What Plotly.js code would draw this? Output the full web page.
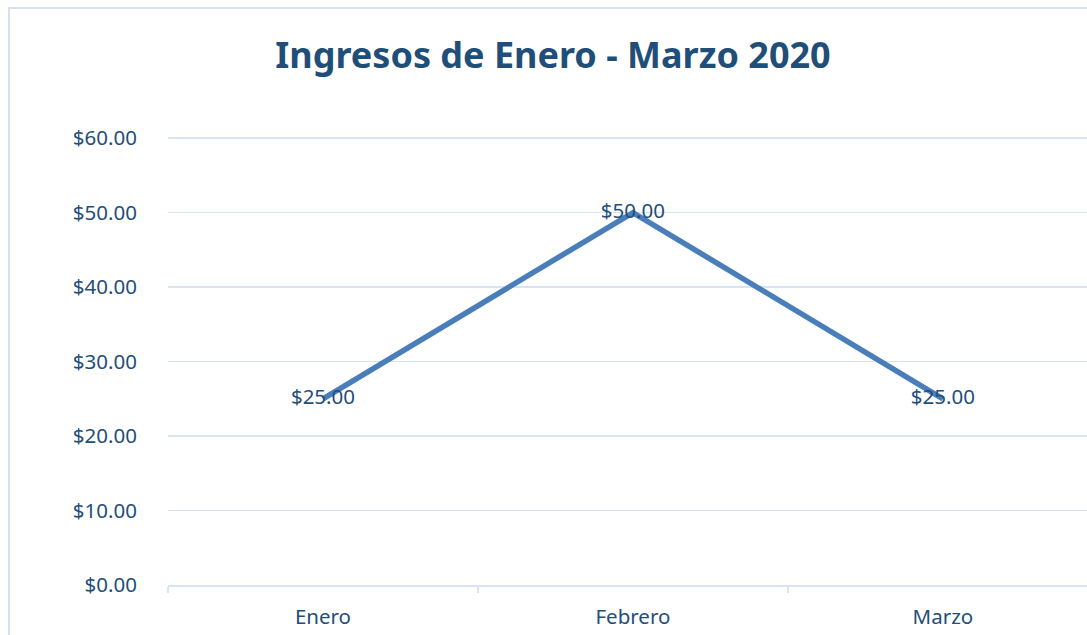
<!DOCTYPE html>
<html><head><meta charset="utf-8">
<script src="https://cdn.plot.ly/plotly-3.0.1.min.js"></script>
<style>
html,body{margin:0;padding:0;overflow:hidden;background:#fff;}
#chart{width:1087px;height:635px;}
#frame{position:absolute;left:8px;top:7px;width:1200px;height:700px;border:2px solid #D5E1F1;pointer-events:none;box-sizing:border-box;}
</style></head>
<body>
<div id="chart"></div>
<div id="frame"></div>
<script>
const categories = ["Enero", "Febrero", "Marzo"];
const values = [25, 50, 25];
const labels = ["$25.00", "$50.00", "$25.00"];
const yTicks = [0, 10, 20, 30, 40, 50, 60];
const yTickText = ["$0.00", "$10.00", "$20.00", "$30.00", "$40.00", "$50.00", "$60.00"];

const txt = "#1F4E79";
const grid = "#D9E4F2";
const font = "Noto Sans, Open Sans, sans-serif";

Plotly.newPlot("chart", [{
  type: "scatter",
  mode: "lines+text",
  x: categories,
  y: values,
  text: labels,
  textposition: "middle center",
  textfont: {family: font, size: 20.5, color: txt},
  line: {color: "#4A7EBB", width: 5.5},
  cliponaxis: false,
  hoverinfo: "none"
}], {
  width: 1087, height: 635,
  margin: {l: 168, r: 0, t: 137, b: 50, pad: 0},
  paper_bgcolor: "#fff", plot_bgcolor: "#fff",
  showlegend: false,
  title: {
    text: "<b>Ingresos de Enero - Marzo 2020</b>",
    font: {family: font, size: 36, color: txt},
    xref: "container", yref: "container",
    x: 553/1087, xanchor: "center",
    y: 1 - 55/635, yanchor: "middle"
  },
  xaxis: {
    type: "category",
    range: [-0.5, 2.465],
    showgrid: false,
    showline: true, linecolor: grid, linewidth: 2,
    ticks: "outside", tickson: "boundaries", ticklen: 6, tickcolor: grid, tickwidth: 2,
    ticklabelstandoff: 12,
    tickfont: {family: font, size: 20.5, color: txt},
    zeroline: false, fixedrange: true
  },
  yaxis: {
    range: [0, 60.15],
    tickvals: yTicks, ticktext: yTickText,
    showgrid: true, gridcolor: grid, gridwidth: 1.5,
    showline: false, zeroline: false,
    ticks: "outside", ticklen: 26, tickcolor: "rgba(0,0,0,0)",
    tickfont: {family: font, size: 20.5, color: txt},
    fixedrange: true
  }
}, {displayModeBar: false, staticPlot: true});
</script>
</body></html>
